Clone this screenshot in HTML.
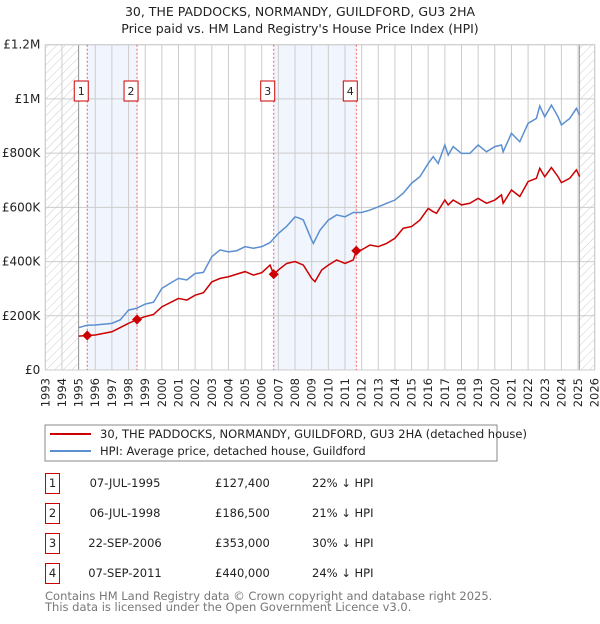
<!DOCTYPE html>
<html><head><meta charset="utf-8">
<style>
body{margin:0;background:#fff;width:600px;height:620px;overflow:hidden;font-family:"DejaVu Sans","Liberation Sans",sans-serif;}
svg text{font-family:"DejaVu Sans","Liberation Sans",sans-serif;}
</style></head>
<body>
<svg id="chart" width="600" height="620" xmlns="http://www.w3.org/2000/svg">
<defs>
<pattern id="hatch" patternUnits="userSpaceOnUse" width="6" height="6" patternTransform="rotate(45)">
<line x1="0" y1="0" x2="0" y2="6" stroke="#ccc" stroke-width="1"/>
</pattern>
<clipPath id="plotclip"><rect x="45.3" y="44.7" width="549.4" height="325.3"/></clipPath>
</defs>
<text x="300" y="16" text-anchor="middle" font-size="12.5" fill="#222">30, THE PADDOCKS, NORMANDY, GUILDFORD, GU3 2HA</text>
<text x="300" y="33" text-anchor="middle" font-size="12.5" fill="#222">Price paid vs. HM Land Registry's House Price Index (HPI)</text>
<g id="plot"></g>

<rect x="45" y="425" width="452" height="36" fill="#fff" stroke="#888" stroke-width="1"/>
<line x1="50" y1="434" x2="91" y2="434" stroke="#cc0000" stroke-width="2"/>
<text x="100" y="438" font-size="11.5" fill="#222">30, THE PADDOCKS, NORMANDY, GUILDFORD, GU3 2HA (detached house)</text>
<line x1="50" y1="451" x2="91" y2="451" stroke="#5b8fd0" stroke-width="2"/>
<text x="100" y="455" font-size="11.5" fill="#222">HPI: Average price, detached house, Guildford</text>

<g id="table" font-size="11.5" fill="#222"></g>

<text x="45" y="600" font-size="11.5" fill="#777">Contains HM Land Registry data © Crown copyright and database right 2025.</text>
<text x="45" y="611" font-size="11.5" fill="#777">This data is licensed under the Open Government Licence v3.0.</text>
</svg>
<script>
const hpiYears=[1995,1995.5,1996,1997,1997.5,1998,1998.5,1999,1999.5,2000,2000.5,2001,2001.5,2002,2002.5,2003,2003.5,2004,2004.5,2005,2005.5,2006,2006.5,2007,2007.5,2008,2008.3,2008.5,2009,2009.1,2009.5,2010,2010.5,2011,2011.5,2012,2012.5,2013,2013.5,2014,2014.5,2015,2015.5,2016,2016.3,2016.6,2017,2017.2,2017.5,2018,2018.5,2019,2019.5,2020,2020.4,2020.5,2021,2021.5,2022,2022.5,2022.7,2023,2023.4,2023.8,2024,2024.5,2024.9,2025.1];
const hpiValues=[156,165,166,172,185,221,228,243,250,301,320,338,332,356,360,418,443,436,440,455,449,455,470,504,530,565,559,553,479,467,516,553,572,565,581,581,590,602,615,627,652,689,713,762,787,762,830,793,824,799,799,830,805,824,830,805,873,842,910,928,974,934,977,934,904,928,965,940];
const priceYears=[1995,1995.52,1996,1997,1998,1998.51,1999,1999.5,2000,2001,2001.5,2002,2002.5,2003,2003.5,2004,2005,2005.5,2006,2006.5,2006.72,2007,2007.5,2008,2008.5,2009,2009.2,2009.6,2010,2010.5,2011,2011.5,2011.68,2012,2012.5,2013,2013.5,2014,2014.5,2015,2015.5,2016,2016.3,2016.5,2017,2017.2,2017.5,2018,2018.5,2019,2019.5,2020,2020.4,2020.5,2021,2021.5,2022,2022.5,2022.7,2023,2023.4,2023.8,2024,2024.5,2024.9,2025.1];
const priceValues=[125,127.4,129,141,172,186.5,197,205,233,264,258,276,285,325,338,344,363,350,359,387,353,369,393,400,387,338,326,369,387,406,393,406,440,443,461,455,467,486,523,529,553,596,584,578,627,609,627,609,615,633,615,627,646,615,664,640,695,707,744,713,747,713,691,707,738,713];
const saleLabels=["1","2","3","4"];
const saleYears=[1995.52,1998.51,2006.72,2011.68];
const saleValues=[127.4,186.5,353,440];
const saleDates=["07-JUL-1995","06-JUL-1998","22-SEP-2006","07-SEP-2011"];
const salePrices=["£127,400","£186,500","£353,000","£440,000"];
const saleDiffs=["22% ↓ HPI","21% ↓ HPI","30% ↓ HPI","24% ↓ HPI"];
const yTicks=[0,200,400,600,800,1000,1200];
const yTickLabels=["£0","£200K","£400K","£600K","£800K","£1M","£1.2M"];
const xTicks=[1993,1994,1995,1996,1997,1998,1999,2000,2001,2002,2003,2004,2005,2006,2007,2008,2009,2010,2011,2012,2013,2014,2015,2016,2017,2018,2019,2020,2021,2022,2023,2024,2025,2026];

const L=45.3,R=594.7,T=44.7,B=370;
const x=v=>L+(v-1993)*(R-L)/33;
const y=v=>B-v*(B-T)/1200;
const NS="http://www.w3.org/2000/svg";
const plot=document.getElementById('plot');
function mk(tag,attrs,parent){const e=document.createElementNS(NS,tag);for(const k in attrs)e.setAttribute(k,attrs[k]);(parent||plot).appendChild(e);return e;}

mk('rect',{x:L,y:T,width:R-L,height:B-T,fill:'#fff'});
// shaded bands between sales
for(let i=0;i<saleYears.length;i+=2){
  const b=mk('rect',{x:x(saleYears[i]),y:T,width:x(saleYears[i+1])-x(saleYears[i]),height:B-T,fill:'#eef3fd',opacity:0.8});
  
  
}
// hatched
const h1=mk('rect',{x:L,y:T,width:x(1995)-L,height:B-T,fill:'url(#hatch)'});


const h2=mk('rect',{x:x(2025.08),y:T,width:R-x(2025.08),height:B-T,fill:'url(#hatch)'});


// grid
xTicks.forEach((t,i)=>{
  mk('line',{x1:x(t),y1:T,x2:x(t),y2:B,stroke:'#ccc','stroke-width':1});
  const tx=mk('text',{x:0,y:0,transform:`translate(${x(t)+4},${B+8}) rotate(-90)`,'text-anchor':'end','font-size':11.5,fill:'#222'});
  tx.textContent=t;
  
  
});
yTicks.forEach((t,i)=>{
  mk('line',{x1:L,y1:y(t),x2:R,y2:y(t),stroke:'#ccc','stroke-width':1});
  const tx=mk('text',{x:L-5,y:y(t)+4,'text-anchor':'end','font-size':12,fill:'#222'});
  tx.textContent=yTickLabels[i];
  
  
});
mk('line',{x1:x(1995),y1:T,x2:x(1995),y2:B,stroke:'#999','stroke-width':1});
mk('line',{x1:x(2025.08),y1:T,x2:x(2025.08),y2:B,stroke:'#999','stroke-width':1});
mk('rect',{x:L,y:T,width:R-L,height:B-T,fill:'none',stroke:'#ccc','stroke-width':1});
// sale vertical lines and boxes
saleYears.forEach((s,i)=>{
  const ln=mk('line',{x1:x(s),y1:T,x2:x(s),y2:B,stroke:'#f06060','stroke-width':1,'stroke-dasharray':'2,2'});
  
  
  const bx=x(s)-5-8;
  const r=mk('rect',{x:bx,y:81,width:14,height:20,fill:'#fff',stroke:'#cc0000','stroke-width':1});
  
  
  const t=mk('text',{x:bx+7,y:95,'text-anchor':'middle','font-size':11,fill:'#222'});
  t.textContent=saleLabels[i];
});
// lines
const hp=mk('polyline',{points:hpiYears.map((v,i)=>x(v)+','+y(hpiValues[i])).join(' '),fill:'none',stroke:'#5b8fd0','stroke-width':1.5,'clip-path':'url(#plotclip)'});


const pp=mk('polyline',{points:priceYears.map((v,i)=>x(v)+','+y(priceValues[i])).join(' '),fill:'none',stroke:'#cc0000','stroke-width':1.5,'clip-path':'url(#plotclip)'});


saleYears.forEach((s,i)=>{
  const c=mk('path',{d:`M${x(s)},${y(saleValues[i])-5}l5,5l-5,5l-5,-5z`,fill:'#cc0000'});
  
  
});
// table
const tb=document.getElementById('table');
saleLabels.forEach((l,i)=>{
  const cy=483+i*30;
  const r=mk('rect',{x:45.5,y:cy-9.5,width:14,height:20,fill:'#fff',stroke:'#cc0000','stroke-width':1},tb);
  
  
  const a=mk('text',{x:52.5,y:cy+4,'text-anchor':'middle'},tb);a.textContent=l;
  const d=mk('text',{x:125,y:cy+4,'text-anchor':'middle'},tb);d.textContent=saleDates[i];
  
  
  const p=mk('text',{x:215,y:cy+4},tb);p.textContent=salePrices[i];
  
  
  const q=mk('text',{x:312,y:cy+4},tb);q.textContent=saleDiffs[i];
  
  
});
</script>
</body></html>
